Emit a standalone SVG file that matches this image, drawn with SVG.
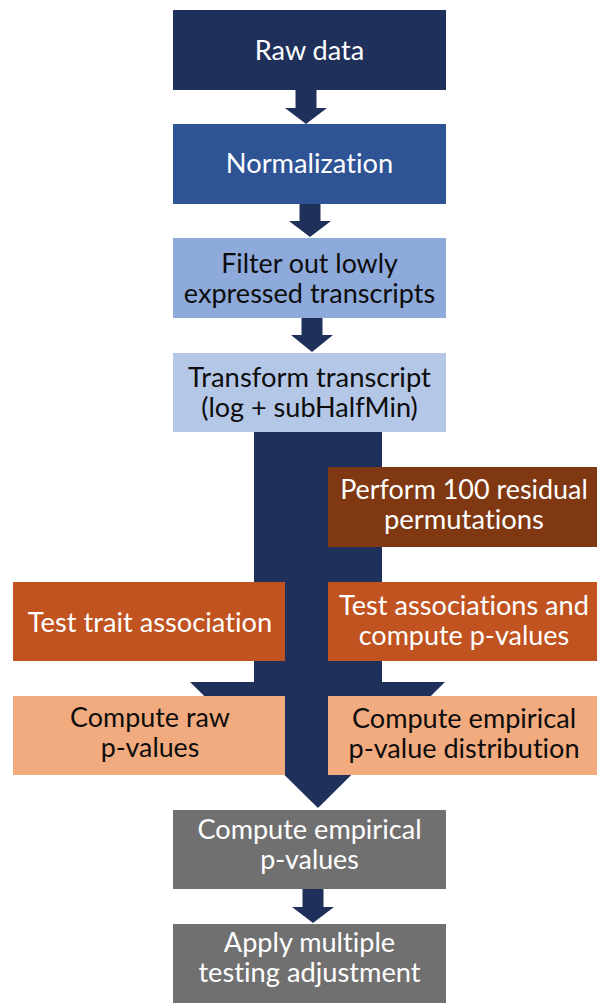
<svg xmlns="http://www.w3.org/2000/svg" width="597" height="1003" viewBox="0 0 597 1003">
<style>
  text { font-family: Lato, "Open Sans", "Liberation Sans", sans-serif; font-size: 27px; text-anchor: middle; font-variant-ligatures: none; font-feature-settings: "liga" 0, "clig" 0; }
  .w { fill: #ffffff; }
  .k { fill: #0d0d0d; }
  .arrow { fill: #1f305a; }
</style>
<rect x="0" y="0" width="597" height="1003" fill="#ffffff"/>
<g id="connectors">
  <polygon class="arrow" points="295.5,90 316.5,90 316.5,108 327,108 306,124 285,108 295.5,108"/>
  <polygon class="arrow" points="299.5,204 320.5,204 320.5,221 331,221 310,237 289,221 299.5,221"/>
  <polygon class="arrow" points="301.5,318 322.5,318 322.5,335 333,335 312,352 291,335 301.5,335"/>
  <polygon class="arrow" points="254,432 382,432 382,682 445,682 318,808 190,682 254,682"/>
  <polygon class="arrow" points="302.5,889 323.5,889 323.5,907 334,907 313,923 292,907 302.5,907"/>
</g>
<g id="raw-data">
  <rect x="173" y="10" width="273" height="80" fill="#1f305a"/>
  <text class="w" x="309.5" y="60" textLength="109.6" lengthAdjust="spacingAndGlyphs">Raw data</text>
</g>
<g id="normalization">
  <rect x="173" y="124" width="273" height="80" fill="#2f5496"/>
  <text class="w" x="309.5" y="173" textLength="167.3" lengthAdjust="spacingAndGlyphs">Normalization</text>
</g>
<g id="filter">
  <rect x="173" y="238" width="273" height="80" fill="#8eaadb"/>
  <text class="k" x="309.5" y="273" textLength="176.6" lengthAdjust="spacingAndGlyphs">Filter out lowly</text>
  <text class="k" x="309.5" y="303" textLength="251.3" lengthAdjust="spacingAndGlyphs">expressed transcripts</text>
</g>
<g id="transform">
  <rect x="173" y="353" width="273" height="79" fill="#b4c7e7"/>
  <text class="k" x="309.5" y="387" textLength="242.9" lengthAdjust="spacingAndGlyphs">Transform transcript</text>
  <text class="k" x="309.5" y="417" textLength="216.6" lengthAdjust="spacingAndGlyphs">(log + subHalfMin)</text>
</g>
<g id="permutations">
  <rect x="328" y="467" width="269" height="80" fill="#7f3812"/>
  <text class="w" x="464" y="499" textLength="247.7" lengthAdjust="spacingAndGlyphs">Perform 100 residual</text>
  <text class="w" x="464" y="529" textLength="160" lengthAdjust="spacingAndGlyphs">permutations</text>
</g>
<g id="test-trait">
  <rect x="13" y="582" width="272" height="79" fill="#c05320"/>
  <text class="w" x="150" y="632" textLength="244.3" lengthAdjust="spacingAndGlyphs">Test trait association</text>
</g>
<g id="test-assoc">
  <rect x="328" y="582" width="269" height="79" fill="#c05320"/>
  <text class="w" x="464" y="615" textLength="249.9" lengthAdjust="spacingAndGlyphs">Test associations and</text>
  <text class="w" x="464" y="645" textLength="210.6" lengthAdjust="spacingAndGlyphs">compute p-values</text>
</g>
<g id="raw-pvalues">
  <rect x="13" y="696" width="272" height="79" fill="#f2ab7e"/>
  <text class="k" x="150" y="727" textLength="159.8" lengthAdjust="spacingAndGlyphs">Compute raw</text>
  <text class="k" x="150" y="757" textLength="98.7" lengthAdjust="spacingAndGlyphs">p-values</text>
</g>
<g id="empirical-distribution">
  <rect x="328" y="696" width="269" height="79" fill="#f2ab7e"/>
  <text class="k" x="464" y="728" textLength="224.1" lengthAdjust="spacingAndGlyphs">Compute empirical</text>
  <text class="k" x="464" y="758" textLength="231" lengthAdjust="spacingAndGlyphs">p-value distribution</text>
</g>
<g id="empirical-pvalues">
  <rect x="173" y="810" width="273" height="79" fill="#717070"/>
  <text class="w" x="309.5" y="839" textLength="224.1" lengthAdjust="spacingAndGlyphs">Compute empirical</text>
  <text class="w" x="309.5" y="869" textLength="98.7" lengthAdjust="spacingAndGlyphs">p-values</text>
</g>
<g id="adjustment">
  <rect x="173" y="924" width="273" height="79" fill="#717070"/>
  <text class="w" x="309.5" y="952" textLength="171.3" lengthAdjust="spacingAndGlyphs">Apply multiple</text>
  <text class="w" x="309.5" y="982" textLength="222.2" lengthAdjust="spacingAndGlyphs">testing adjustment</text>
</g>
</svg>
